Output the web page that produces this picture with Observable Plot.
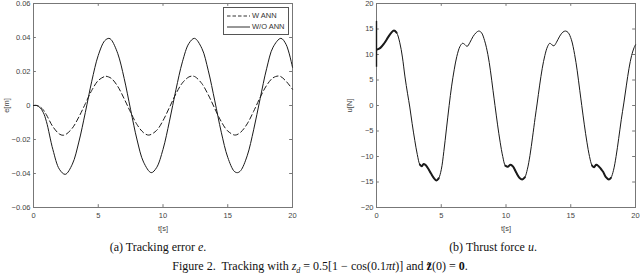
<!DOCTYPE html>
<html><head><meta charset="utf-8">
<script src="https://cdn.jsdelivr.net/npm/d3@7"></script>
<script src="https://cdn.jsdelivr.net/npm/@observablehq/plot@0.6"></script>
<style>
body{margin:0;background:#fff;}
#fig{position:relative;width:640px;height:279px;overflow:hidden;background:#fff;}
.plot{position:absolute;top:0;}
.cap{position:absolute;font-family:"Liberation Serif","Times New Roman",serif;font-size:12px;color:#111;white-space:nowrap;transform:translateX(-50%);line-height:1;}
.legend{position:absolute;border:1px solid #555;background:#fff;font-family:"Liberation Sans",Arial,sans-serif;font-size:7.5px;color:#333;padding:2px 3px 2px 2px;line-height:11px;}
.legend div{display:flex;align-items:center;white-space:nowrap;}
.legend svg{margin-right:1px;}
</style></head><body>
<div id="fig"></div>
<script>
// ---- data: (a) tracking error e [m] ----
const timeW = [0,0.25,0.5,0.75,1,1.5,2,2.27,2.5,3,3.5,4,4.5,5,5.5,5.61,6,6.5,7,7.5,8,8.5,8.9,9.5,10,10.5,11,11.5,12,12.3,12.5,13,13.5,14,14.5,15,15.57,16,16.5,17,17.5,18,18.5,19,19.5,20];
const errW  = [0,0,-0.0008,-0.0025,-0.0055,-0.0125,-0.0168,-0.0175,-0.017,-0.0133,-0.0068,0.001,0.0089,0.0147,0.0171,0.0172,0.016,0.0113,0.004,-0.004,-0.0113,-0.016,-0.0174,-0.0147,-0.0089,-0.0011,0.0069,0.0133,0.0168,0.0173,0.0168,0.0129,0.0062,-0.0018,-0.0095,-0.015,-0.0174,-0.0157,-0.0108,-0.0034,0.0047,0.0118,0.0163,0.0173,0.0143,0.0095];
const timeWO = [0,0.25,0.5,0.75,1,1.5,2,2.45,3,3.5,4,4.5,5,5.5,5.82,6,6.5,7,7.5,8,8.5,9.09,9.5,10,10.5,11,11.5,12,12.43,13,13.5,14,14.5,15,15.5,15.75,16,16.5,17,17.5,18,18.5,19.1,19.5,20];
const errWO  = [0,0,-0.0012,-0.004,-0.0095,-0.026,-0.0375,-0.0405,-0.0345,-0.0215,-0.0042,0.0143,0.0295,0.0381,0.0395,0.0387,0.0307,0.016,-0.0025,-0.0203,-0.0333,-0.0395,-0.0366,-0.0258,-0.0092,0.0093,0.0257,0.0365,0.0395,0.0336,0.0204,0.0027,-0.0157,-0.0305,-0.0387,-0.0395,-0.0383,-0.0296,-0.0143,0.004,0.0216,0.0343,0.0395,0.036,0.0225];
// ---- data: (b) thrust force u [N] ----
const timeU = [0.08,0.3,0.6,0.9,1.15,1.35,1.55,1.8,2,2.2,2.4,2.57,2.75,2.96,3.15,3.35,3.5,3.62,3.75,3.95,4.2,4.45,4.63,4.8,5,5.2,5.4,5.61,5.8,6,6.2,6.45,6.65,6.8,7,7.2,7.45,7.7,7.9,8.1,8.35,8.6,8.8,9,9.15,9.35,9.55,9.75,9.95,10.15,10.35,10.55,10.8,11.05,11.25,11.45,11.65,11.85,12.05,12.25,12.4,12.6,12.8,13,13.2,13.38,13.55,13.7,13.9,14.15,14.4,14.6,14.8,15.05,15.3,15.5,15.7,15.85,16.05,16.25,16.45,16.65,16.8,16.96,17.15,17.35,17.5,17.7,17.94,18.1,18.3,18.5,18.7,18.9,19.1,19.3,19.5,19.7,19.9,20];
const forceU = [11,11.3,12.2,13.4,14.3,14.7,14.3,12.3,9.5,5.6,2.3,-0.3,-3.5,-6.9,-9.6,-11.6,-11.9,-11.5,-11.6,-12.2,-13.3,-14.3,-14.7,-14.3,-12.6,-9,-4.6,0,3.8,7,9.6,11.6,12.2,12,11.6,12.3,13.5,14.3,14.6,14.3,12.7,10,6.8,2.9,0,-3.8,-7.2,-10,-11.8,-12,-11.6,-12,-13.2,-14.2,-14.5,-14.1,-12.5,-9.8,-6.2,-2.4,0.3,4,7.3,9.8,11.5,12.2,11.9,11.7,12.4,13.6,14.4,14.6,14.3,12.9,10,6.8,2.9,0,-3.8,-7.2,-10,-11.8,-12.1,-11.6,-11.9,-12.5,-13,-14,-14.5,-14.2,-12.7,-10,-6.5,-2.8,0.5,4,7.3,9.8,11.4,11.9];
const spikeU = [7.5, 16.5];            // initial transient at t = 0
const chatterSpans = [[0.08,1.6],[3.3,4.9],[9.95,11.5],[16.6,18.2]]; // thicker (chattering) stretches

const xTicks = [0,5,10,15,20];
const eTicks = [-0.06,-0.04,-0.02,0,0.02,0.04,0.06];
const uTicks = [-20,-15,-10,-5,0,5,10,15,20];
const legendLabels = ["W ANN","W/O ANN"];

const fmtE = d => d === 0 ? "0" : (d < 0 ? "\u2212" : "") + Math.abs(d).toFixed(2);
const fmtU = d => (d < 0 ? "\u2212" : "") + Math.abs(d);

const frameC = "#777", ink = "#1a1a1a";

function panel(yDom, yTicks, yFmt, yLabel, dataMarks) {
  const xDom = [0,20];
  const fy = f => yDom[0] + (yDom[1]-yDom[0]) * f;
  const fx = f => xDom[0] + (xDom[1]-xDom[0]) * f;
  return Plot.plot({
    width: 300, height: 240,
    marginLeft: 33, marginRight: 8, marginTop: 3, marginBottom: 33,
    style: {fontFamily: "'Liberation Sans', Arial, sans-serif", fontSize: "7.5px", color: "#444", background: "transparent"},
    x: {domain: xDom},
    y: {domain: yDom},
    marks: [
      Plot.frame({stroke: frameC}),
      Plot.ruleX(xTicks, {x: d => d, y1: fy(0), y2: fy(0.014), stroke: frameC}),
      Plot.ruleX(xTicks, {x: d => d, y1: fy(1), y2: fy(0.986), stroke: frameC}),
      Plot.ruleY(yTicks, {y: d => d, x1: fx(0), x2: fx(0.011), stroke: frameC}),
      Plot.ruleY(yTicks, {y: d => d, x1: fx(1), x2: fx(0.989), stroke: frameC}),
      Plot.axisX(xTicks, {tickSize: 0, tickPadding: 5, label: "t[s]", labelAnchor: "center", labelOffset: 23, labelArrow: "none"}),
      Plot.axisY(yTicks, {tickSize: 0, tickPadding: 3, tickFormat: yFmt, label: yLabel, labelAnchor: "center", labelOffset: 30, labelArrow: "none"}),
      ...dataMarks
    ]
  });
}

const dataW = timeW.map((t,i) => ({t, e: errW[i]}));
const dataWO = timeWO.map((t,i) => ({t, e: errWO[i]}));
const dataU = timeU.map((t,i) => ({t, u: forceU[i], seg: chatterSpans.findIndex(([a,b]) => t >= a && t <= b)}));

const pa = panel([-0.06,0.06], eTicks, fmtE, "e[m]", [
  Plot.line(dataWO, {x: "t", y: "e", stroke: ink, strokeWidth: 1, curve: "catmull-rom"}),
  Plot.line(dataW, {x: "t", y: "e", stroke: ink, strokeWidth: 1, strokeDasharray: "5,3", curve: "catmull-rom"})
]);
const pb = panel([-20,20], uTicks, fmtU, "u[N]", [
  Plot.ruleX([0], {x: d => d, y1: spikeU[0], y2: spikeU[1], stroke: ink, strokeWidth: 1.4}),
  Plot.line(dataU, {x: "t", y: "u", stroke: ink, strokeWidth: 1, curve: "catmull-rom"}),
  Plot.line(dataU.filter(d => d.seg >= 0), {x: "t", y: "u", z: "seg", stroke: ink, strokeWidth: 2, curve: "catmull-rom"})
]);

const fig = document.getElementById("fig");
pa.classList.add("plot"); pa.style.left = "0px";
pb.classList.add("plot"); pb.style.left = "343px";
fig.appendChild(pa); fig.appendChild(pb);

// legend inside panel (a)
const leg = document.createElement("div");
leg.className = "legend";
leg.style.left = "223px"; leg.style.top = "7px";
const dashes = ["3.5,2", null];
legendLabels.forEach((lab, i) => {
  const row = document.createElement("div");
  const s = d3.create("svg").attr("width", 25).attr("height", 8);
  s.append("line").attr("x1", 1).attr("x2", 24).attr("y1", 4).attr("y2", 4)
    .attr("stroke", ink).attr("stroke-width", 0.9).attr("stroke-dasharray", dashes[i]);
  row.appendChild(s.node());
  row.appendChild(document.createTextNode(lab));
  leg.appendChild(row);
});
fig.appendChild(leg);

// captions
function cap(html, cx, top) {
  const d = document.createElement("div");
  d.className = "cap"; d.innerHTML = html;
  d.style.left = cx + "px"; d.style.top = top + "px";
  fig.appendChild(d);
}
cap("(a) Tracking error <i>e</i>.", 158, 241);
cap("(b) Thrust force <i>u</i>.", 493, 241);
cap("Figure 2.&nbsp; Tracking with <i>z<sub style='font-size:8px'>d</sub></i> = 0.5[1 \u2212 cos(0.1<i>\u03c0t</i>)] and <b>z\u0303</b>(0) = <b>0</b>.", 320, 260);
</script>
</body></html>
